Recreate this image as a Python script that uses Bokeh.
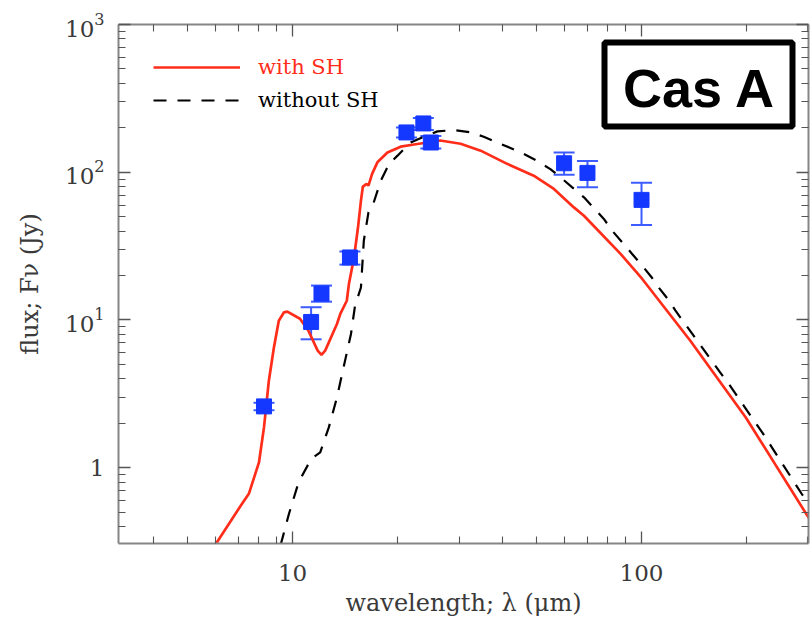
from bokeh.plotting import figure
from bokeh.models import (Range1d, LogAxis, FixedTicker, Whisker, ColumnDataSource,
                          Legend, LegendItem, BoxAnnotation, Label, TeeHead, LogTickFormatter)
from bokeh.embed import file_html
from bokeh.resources import INLINE

# ---- data ----
red_x = [6.0, 7.10, 7.50, 8.01, 8.28, 8.55, 8.84, 9.13, 9.44, 9.66, 10.5, 11.1, 11.8, 12.1,
         12.4, 13.4, 13.7, 14.3, 14.5, 15.0, 15.4, 15.7, 15.9, 16.3, 16.5, 16.9, 17.5, 18.7,
         20.4, 22.3, 26.5, 30.3, 34.6, 41.2, 49.1, 56.1, 64.0, 68.4, 87.1, 100.5, 138, 199, 305]
red_y = [0.30, 0.553, 0.670, 1.086, 1.875, 3.88, 6.52, 9.89, 11.25, 11.4, 10.2, 8.46, 6.2, 5.8,
         6.2, 9.4, 11.0, 13.5, 17.5, 26.5, 42.4, 64.2, 79.9, 83.3, 81.2, 97.4, 116.7, 136,
         149, 154, 164, 156, 140, 114, 94.8, 77.1, 57.8, 50.8, 28.0, 18.95, 7.24, 2.19, 0.438]

dash_x = [9.24, 9.76, 10.4, 11.3, 12.0, 12.7, 13.4, 14.0, 14.7, 15.1, 15.7, 16.0, 16.5, 16.9,
          17.9, 18.9, 19.95, 21.8, 23.5, 26.0, 29.0, 32.4, 35.3, 38.6, 42.1, 46.0, 49.7, 54.8,
          58.6, 63.3, 68.4, 73.0, 78.0, 82.4, 88.1, 94.0, 100.5, 107, 112, 120, 125, 168, 178,
          210, 222, 288, 305]
dash_y = [0.30, 0.486, 0.795, 1.145, 1.27, 1.875, 2.99, 4.78, 8.04, 12.5, 16.6, 34.4, 53.5, 57.8,
          87.7, 113.8, 129, 159, 172, 189, 193, 186, 174, 159, 146, 133, 121, 105,
          92.4, 79, 67.6, 57.3, 48.3, 40.2, 33.5, 28.0, 23.3, 19.4, 16.6, 13.5, 11.6, 4.42, 3.69,
          2.08, 1.73, 0.664, 0.539]

obs_x = [8.28, 11.3, 12.1, 14.6, 21.2, 23.7, 24.9, 60.0, 70.0, 100.0]
obs_y = [2.6, 9.7, 15.1, 26.5, 186, 214, 159, 115, 99, 65]
obs_hi = [2.75, 12.2, 17.1, 29.1, 201, 233, 176, 136, 119, 85]
obs_lo = [2.45, 7.4, 13.3, 23.7, 172, 193, 145, 96, 79, 44]

x_major = [10, 100]
x_minor = [4, 5, 6, 7, 8, 9, 20, 30, 40, 50, 60, 70, 80, 90, 200, 300]
y_major = [1, 10, 100, 1000]
y_minor = [0.4, 0.5, 0.6, 0.7, 0.8, 0.9, 2, 3, 4, 5, 6, 7, 8, 9,
           20, 30, 40, 50, 60, 70, 80, 90, 200, 300, 400, 500, 600, 700, 800, 900]

RED = "#ff2d1a"
BLUE = "#1438ff"
EBLUE = "#3d5cff"
SERIF = "DejaVu Serif"

p = figure(width=810, height=627, x_axis_type="log", y_axis_type="log",
           x_range=Range1d(3.17, 301), y_range=Range1d(0.307, 1000),
           output_backend="svg", toolbar_location=None,
           min_border_left=118, min_border_right=2, min_border_top=24, min_border_bottom=84)
p.xgrid.visible = False
p.ygrid.visible = False
p.outline_line_color = None
p.background_fill_color = "white"
p.border_fill_color = "white"


def style_axis(ax):
    ax.axis_line_color = "#858585"
    ax.axis_line_width = 2
    ax.major_tick_line_color = "#555555"
    ax.minor_tick_line_color = "#555555"
    ax.major_tick_line_width = 1.3
    ax.minor_tick_line_width = 1.1
    ax.major_tick_in = 12
    ax.major_tick_out = 0
    ax.minor_tick_in = 7
    ax.minor_tick_out = 0
    ax.major_label_text_font = SERIF
    ax.major_label_text_font_size = "23px"
    ax.major_label_text_color = "#3a3a3a"
    ax.axis_label_text_font = SERIF
    ax.axis_label_text_font_size = "24px"
    ax.axis_label_text_font_style = "normal"
    ax.axis_label_text_color = "#3a3a3a"


xa = p.xaxis[0]
xa.ticker = FixedTicker(ticks=x_major, minor_ticks=x_minor)
xa.formatter = LogTickFormatter(min_exponent=3)
xa.axis_label = "wavelength; λ (μm)"
style_axis(xa)
xa.major_label_standoff = 21
xa.axis_label_standoff = 5

ya = p.yaxis[0]
ya.ticker = FixedTicker(ticks=y_major, minor_ticks=y_minor)
ya.formatter = LogTickFormatter(min_exponent=1)
ya.axis_label = "flux; Fν (Jy)"
style_axis(ya)
ya.major_label_standoff = 14
ya.axis_label_standoff = 18

for loc in ("above", "right"):
    maj = x_major if loc == "above" else y_major
    mnr = x_minor if loc == "above" else y_minor
    ax = LogAxis(ticker=FixedTicker(ticks=maj, minor_ticks=mnr))
    style_axis(ax)
    ax.major_label_overrides = {t: " " for t in maj}
    ax.major_label_text_font_size = "1px"
    ax.major_label_text_alpha = 0
    ax.major_label_standoff = 0
    p.add_layout(ax, loc)

# curves
r_red = p.line(red_x, red_y, line_color=RED, line_width=2.7)
r_dash = p.line(dash_x, dash_y, line_color="black", line_width=2.2, line_dash="13 11")

# observations
src = ColumnDataSource(dict(x=obs_x, y=obs_y, hi=obs_hi, lo=obs_lo))
wh = Whisker(source=src, base="x", upper="hi", lower="lo", dimension="height",
             line_color=EBLUE, line_width=2,
             upper_head=TeeHead(size=21, line_color=EBLUE, line_width=2),
             lower_head=TeeHead(size=21, line_color=EBLUE, line_width=2))
wh.level = "underlay"
p.add_layout(wh)
p.scatter("x", "y", source=src, marker="square", size=15, fill_color=BLUE, line_color=BLUE)

# legends (two, so each label has its own colour)
for r, lab, col, y in ((r_red, "with SH", RED, 464), (r_dash, "without SH", "black", 431)):
    lg = Legend(items=[LegendItem(label=lab, renderers=[r])], location=(35, y),
                padding=0, margin=0, spacing=0, glyph_width=87, glyph_height=20,
                label_height=20, label_standoff=18, border_line_color=None,
                background_fill_alpha=0, label_text_font=SERIF,
                label_text_font_size="21px", label_text_color=col)
    p.add_layout(lg, "center")

# "Cas A" box
box = BoxAnnotation(left=486, right=674, top=501, bottom=417,
                    left_units="screen", right_units="screen",
                    top_units="screen", bottom_units="screen",
                    fill_color="white", fill_alpha=1.0,
                    line_color="black", line_alpha=1.0, line_width=6)
p.add_layout(box)
p.add_layout(Label(x=581, y=456, x_units="screen", y_units="screen", text="Cas A",
                   text_align="center", text_baseline="alphabetic",
                   text_font="Liberation Sans", text_font_style="bold",
                   text_font_size="54px", text_color="black"))

open("out.html", "w").write(file_html(p, INLINE))
